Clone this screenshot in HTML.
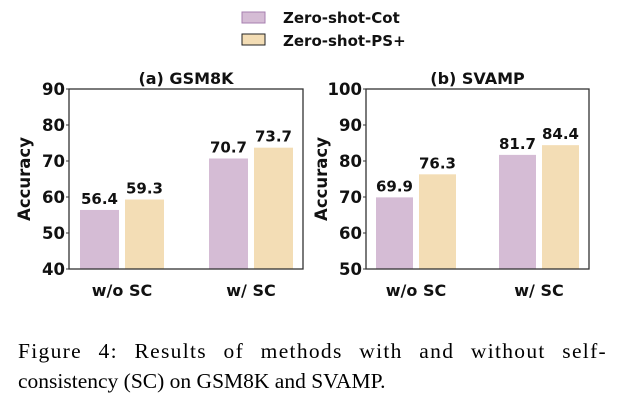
<!DOCTYPE html>
<html><head><meta charset="utf-8"><style>
body{margin:0;background:#fff;width:625px;height:404px;overflow:hidden}
svg text{font-family:"DejaVu Sans","Liberation Sans",sans-serif;font-weight:bold;fill:#111}
.cap{font-family:"Liberation Serif",serif;font-weight:normal;font-size:21.5px;fill:#000}
</style></head><body>
<svg id="c" width="625" height="404">
<g>
<rect x="242" y="12" width="23" height="11" fill="#d5bcd5" stroke="#a77fb0"/>
<text x="283" y="23" font-size="15">Zero-shot-Cot</text>
<rect x="242" y="34" width="23" height="11" fill="#f3ddb5" stroke="#222"/>
<text x="283" y="46" font-size="15">Zero-shot-PS+</text>
</g>
<text id="cap1" class="cap" x="18" y="358" style="letter-spacing:1.3px;word-spacing:4px">Figure 4: Results of methods with and without self-</text>
<text class="cap" x="18" y="388">consistency (SC) on GSM8K and SVAMP.</text>
</svg>
<script>
const categories=["w/o SC","w/ SC"];
const gsmCot=[56.4,70.7];
const gsmPs=[59.3,73.7];
const svampCot=[69.9,81.7];
const svampPs=[76.3,84.4];
const gsmTicks=[40,50,60,70,80,90];
const svampTicks=[50,60,70,80,90,100];
const NS="http://www.w3.org/2000/svg";
const svg=document.getElementById('c');
function mk(t,a,p){const e=document.createElementNS(NS,t);for(const k in a)e.setAttribute(k,a[k]);(p||svg).appendChild(e);return e;}
function panel(name,title,x0,x1,ticks,cot,ps,centers,bw){
 const y0=89,y1=269,lo=ticks[0],hi=ticks[ticks.length-1];
 const ys=v=>y1-(v-lo)/(hi-lo)*(y1-y0);
 const g=mk('g',{});
 
 
 const t=mk('text',{x:(x0+x1)/2,y:84,'font-size':16,'text-anchor':'middle'},g);t.textContent=title;
 
 
 ticks.forEach(v=>{const l=mk('text',{x:x0-4,y:ys(v)+6,'font-size':16.5,'text-anchor':'end'},g);l.textContent=v;
  
  
  mk('line',{x1:x0-3,x2:x0,y1:ys(v),y2:ys(v),stroke:'#333'},g);});
 const yl=mk('text',{x:0,y:0,'font-size':16.5,'text-anchor':'middle',transform:`translate(${x0-39},${(y0+y1)/2}) rotate(-90)`},g);yl.textContent='Accuracy';
 
 
 categories.forEach((c,i)=>{
  [[cot[i],'#d5bcd5',-1],[ps[i],'#f3ddb5',1]].forEach(([v,col,s])=>{
   const bx=s<0?centers[i]-3-bw:centers[i]+3;
   const r=mk('rect',{x:bx,y:ys(v),width:bw,height:y1-ys(v),fill:col},g);
   
   
   const lt=mk('text',{x:bx+bw/2,y:ys(v)-6,'font-size':15,'text-anchor':'middle'},g);lt.textContent=v.toFixed(1);
   
   
  });
  const xl=mk('text',{x:centers[i],y:296,'font-size':16,'text-anchor':'middle'},g);xl.textContent=c;
  
  
 });
 mk('rect',{x:x0,y:y0,width:x1-x0,height:y1-y0,fill:'none',stroke:'#333','stroke-width':1.3},g);
}
panel('gsm8k-chart','(a) GSM8K',69,303,gsmTicks,gsmCot,gsmPs,[122,251],39);
panel('svamp-chart','(b) SVAMP',366,589,svampTicks,svampCot,svampPs,[416,539],37);
const c1=document.getElementById('cap1');
try{const w=c1.getComputedTextLength();const extra=(589-w)/8;c1.style.wordSpacing=Math.max(0,4+extra)+'px';}catch(e){}
</script>
</body></html>
